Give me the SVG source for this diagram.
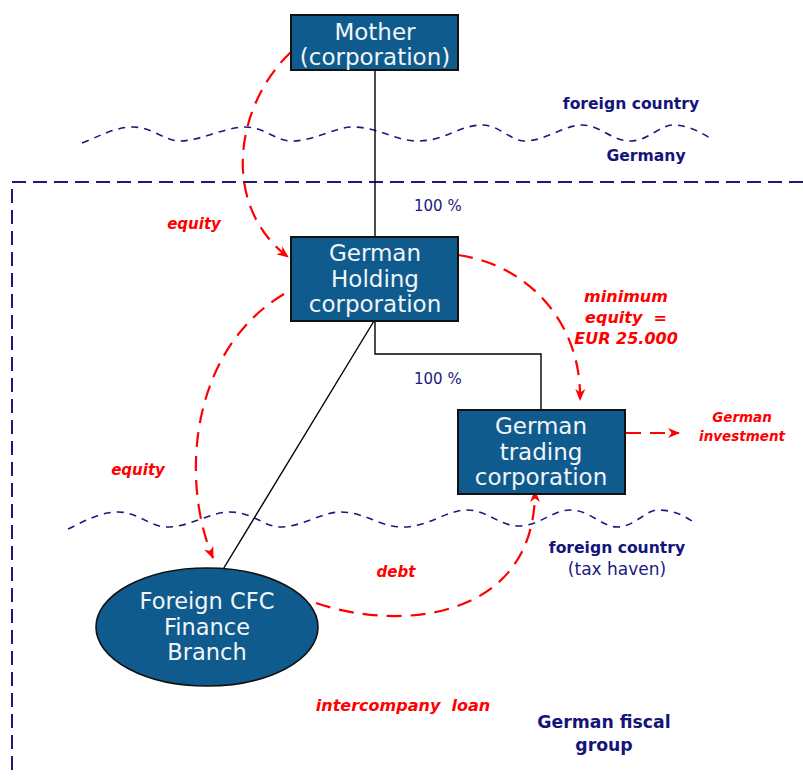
<svg xmlns="http://www.w3.org/2000/svg" width="803" height="776" viewBox="0 0 803 776">
<defs>
<marker id="ah" viewBox="0 0 12 10" refX="11" refY="5" markerWidth="12" markerHeight="10" markerUnits="userSpaceOnUse" orient="auto">
<path d="M0,0 L12,5 L0,10 L3.5,5 z" fill="#ff0000"/>
</marker>
<style>
.box{fill:#0f5b8e;stroke:#111;stroke-width:2}
.bt{font-family:"DejaVu Sans",sans-serif;font-size:23px;fill:#f2f5f8;text-anchor:middle}
.et{font-family:"DejaVu Sans",sans-serif;font-size:22.5px;fill:#f2f5f8;text-anchor:middle}
.link{fill:none;stroke:#000;stroke-width:1.4}
.flow{fill:none;stroke:#ff0000;stroke-width:2.2;stroke-dasharray:15 9;marker-end:url(#ah)}
.wave{fill:none;stroke:#1a1a80;stroke-width:1.6;stroke-dasharray:7 6}
.border{fill:none;stroke:#1a1a80;stroke-width:2;stroke-dasharray:14 7}
.rl{font-family:"DejaVu Sans",sans-serif;font-size:15px;font-weight:bold;font-style:italic;fill:#ff0000;text-anchor:middle}
.nb{font-family:"DejaVu Sans",sans-serif;font-size:15.6px;font-weight:bold;fill:#14147a;text-anchor:middle}
.nn{font-family:"DejaVu Sans",sans-serif;font-size:15px;fill:#1a1a80}
</style>
</defs>
<rect width="803" height="776" fill="#ffffff"/>

<g id="boundaries">
<path class="border" d="M803,182 H12 V776"/>
<path class="wave" d="M82,143 C100,136 115,127 133,127 C152,127 165,141 180,141 C200,141 225,127 245,127 C265,127 275,141 292,141 C315,141 335,127 353,127 C378,127 395,141 418,141 C445,141 460,125 482,125 C500,125 510,141 525,141 C545,141 565,125 582,125 C600,125 612,141 630,141 C648,141 660,125 673,125 C688,125 700,132 710,138"/>
<path class="wave" d="M68,529 C85,521 100,512 118,512 C138,512 150,527 167,527 C190,527 210,512 230,512 C252,512 265,527 280,527 C302,527 322,512 340,512 C365,512 380,527 403,527 C428,527 447,510 467,510 C487,510 500,526 518,526 C540,526 552,510 570,510 C590,510 602,527 617,527 C635,527 645,510 658,510 C675,510 686,517 695,523"/>
</g>

<g id="connectors">
<path class="link" d="M375,70 V237"/>
<path class="link" d="M375,321 V354 H541 V410"/>
<path class="link" d="M374,321 L222,571"/>
<path class="flow" d="M291,52 C235,105 220,205 288,257"/>
<path class="flow" d="M284,294 C190,350 180,480 213,558"/>
<path class="flow" d="M458,255 C530,265 582,325 580,400"/>
<path class="flow" d="M316,603 C400,632 535,620 535,491"/>
<path class="flow" d="M626,433 H679"/>
</g>

<g id="mother">
<rect class="box" x="291" y="15" width="167" height="55"/>
<text class="bt" x="375" y="40">Mother</text>
<text class="bt" x="375" y="65">(corporation)</text>
</g>

<g id="holding">
<rect class="box" x="291" y="237" width="167" height="84"/>
<text class="bt" x="375" y="261">German</text>
<text class="bt" x="375" y="286.5">Holding</text>
<text class="bt" x="375" y="312">corporation</text>
</g>

<g id="trading">
<rect class="box" x="458" y="410" width="167" height="84"/>
<text class="bt" x="541" y="434">German</text>
<text class="bt" x="541" y="459.5">trading</text>
<text class="bt" x="541" y="485">corporation</text>
</g>

<g id="cfc">
<ellipse class="box" cx="207" cy="627" rx="111" ry="59" style="stroke-width:1.6"/>
<text class="et" x="207" y="609">Foreign CFC</text>
<text class="et" x="207" y="635">Finance</text>
<text class="et" x="207" y="660">Branch</text>
</g>

<g id="labels">
<text class="nb" x="631" y="109">foreign country</text>
<text class="nb" x="646" y="161">Germany</text>
<text class="nn" x="414" y="211">100 %</text>
<text class="nn" x="414" y="384">100 %</text>
<text class="nb" x="617" y="553">foreign country</text>
<text class="nn" x="617" y="575" text-anchor="middle" style="font-size:17px">(tax haven)</text>
<text class="nb" x="604" y="728" style="font-size:17.3px">German fiscal</text>
<text class="nb" x="604" y="751" style="font-size:17.3px">group</text>
<text class="rl" x="194" y="229">equity</text>
<text class="rl" x="626" y="302" style="font-size:16px">minimum</text>
<text class="rl" x="626" y="323" style="font-size:16px" xml:space="preserve">equity  =</text>
<text class="rl" x="626" y="344" style="font-size:16px">EUR 25.000</text>
<text class="rl" x="742" y="422" style="font-size:13.5px">German</text>
<text class="rl" x="742" y="441" style="font-size:13.5px">investment</text>
<text class="rl" x="138" y="475">equity</text>
<text class="rl" x="396" y="577">debt</text>
<text class="rl" x="403" y="711" style="font-size:16px" xml:space="preserve">intercompany  loan</text>
</g>
</svg>
